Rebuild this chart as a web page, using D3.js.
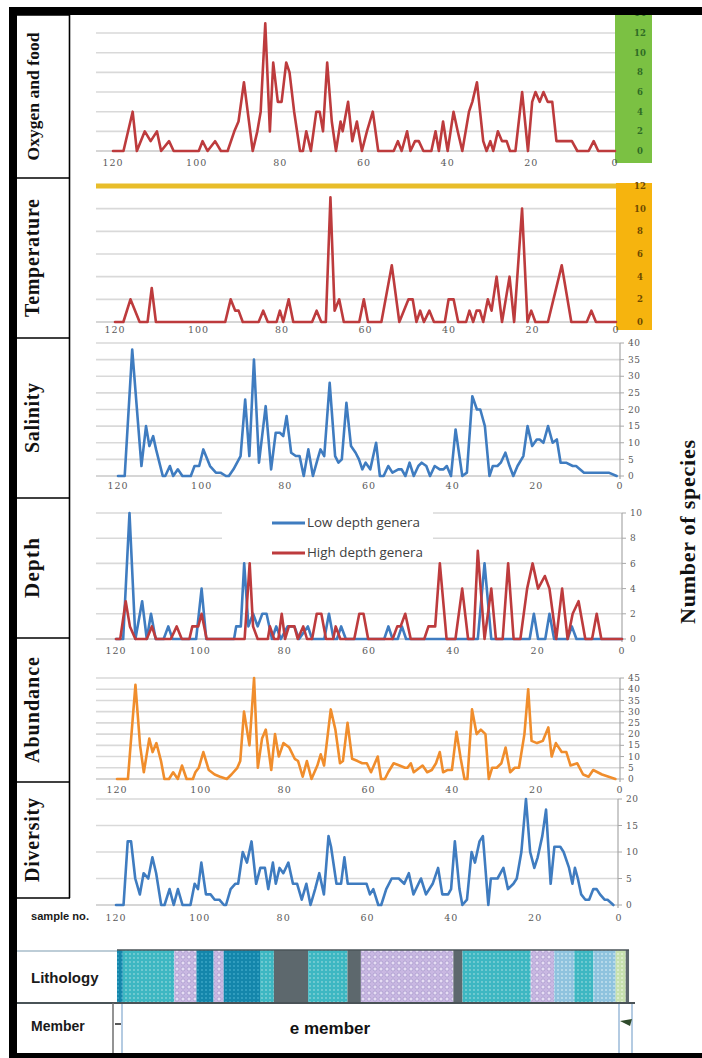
<!DOCTYPE html>
<html><head><meta charset="utf-8">
<script src="https://cdn.jsdelivr.net/npm/d3@7"></script>
<style>body{margin:0;background:#fff;}svg{display:block;}</style>
</head><body>
<svg id="c" width="702" height="1058"></svg>
<script>
// ---------------- DATA ----------------
const sampleTicks = [120, 100, 80, 60, 40, 20, 0];
const rowLabels = ["Oxygen and food", "Temperature", "Salinity", "Depth", "Abundance", "Diversity"];
const oxygenTicks = [0, 2, 4, 6, 8, 10, 12, 14];
const temperatureTicks = [0, 2, 4, 6, 8, 10, 12];
const salinityTicks = [0, 5, 10, 15, 20, 25, 30, 35, 40];
const depthTicks = [0, 2, 4, 6, 8, 10];
const abundanceTicks = [0, 5, 10, 15, 20, 25, 30, 35, 40, 45];
const diversityTicks = [0, 5, 10, 15, 20];
const legendNames = ["Low depth genera", "High depth genera"];

// [sample no., number of species]
const oxygenFood = [[120,0],[117.5,0],[115.3,4],[114.3,0],[112.4,2],[111,1],[109.5,2],[108.5,0],[106.6,1],[105.5,0],[99.5,0],[98.6,1],[97.4,0],[95.6,1],[94.2,0],[92.6,0],[91,2],[90,3],[88.7,7],[87.5,3],[86.6,0],[85.5,2],[84.7,4],[83.6,13],[82.5,2],[81.7,9],[80.6,5],[79.7,5],[78.6,9],[77.8,8],[76.7,4],[75.3,0],[74.6,0],[73.8,2],[72.7,0],[71.4,4],[70.6,4],[69.8,2],[68.8,9],[67.7,3],[66.7,0],[65.6,3],[65.1,2],[63.8,5],[62.8,1],[61.7,3],[60.5,0],[59.3,2],[57.9,4],[56.6,0],[52.9,0],[51.9,1],[51,0],[49.7,2],[48.9,0],[47.8,1],[46.9,1],[45.8,0],[43.9,0],[42.9,2],[42.1,0],[41.1,3],[40,0],[38.6,4],[37.6,2],[36.5,0],[34.9,4],[34.1,5],[33,7],[31.5,1],[30.7,0],[29.8,1],[29.1,0],[28,2],[27,1],[25.9,1],[25.1,0],[23.8,0],[22.2,6],[20.8,0],[19.8,5],[19,6],[18,5],[17.1,6],[16.1,5],[15,5],[14,1],[10.3,1],[9,0],[6.3,0],[5.1,1],[4,0],[0,0]];
const temperature = [[120,0],[118,0],[116.3,2],[114.1,0],[112.2,0],[111.2,3],[110.2,0],[93.6,0],[92.3,2],[91.2,1],[90.4,1],[89.4,0],[85.6,0],[84.5,1],[83.4,0],[81.3,0],[80.5,1],[79.7,0],[78.4,2],[77.3,0],[72.8,0],[71.7,1],[70.6,0],[69.5,0],[68.4,11],[67.4,1],[66.3,2],[65.2,0],[61.5,0],[60.4,2],[59.4,0],[56.2,0],[53.7,5],[51.9,0],[49.7,2],[48.7,2],[47.8,0],[46.9,1],[46,0],[44.7,1],[43.6,0],[41,0],[40.1,2],[38.9,2],[37.8,0],[35.9,0],[35.1,1],[34.2,0],[33.4,1],[32.6,1],[31.8,0],[30.7,2],[29.8,1],[28.6,4],[27.3,0],[25.5,4],[24.4,0],[22.5,10],[21.2,0],[20.3,1],[19.3,0],[16.3,0],[13,5],[10.7,0],[7,0],[5.9,1],[4.8,0],[0,0]];
const salinity = [[120,0],[118.4,0],[116.6,38],[114.4,3],[113.3,15],[112.5,9],[111.6,12],[110.9,8],[109.3,0],[108.7,0],[107.6,3],[106.8,0],[105.7,2],[104.6,0],[102.6,0],[101.7,3],[100.6,3],[99.6,8],[98,3],[96.6,1],[95.5,1],[94.2,0],[93.5,0],[92.4,2],[90.7,6],[89.6,23],[88.6,6],[87.5,35],[86.3,4],[84.7,21],[83.4,2],[82.3,13],[81.3,13],[80.5,12],[79.7,18],[78.6,7],[77.5,6],[76.6,6],[75.6,0],[74.5,8],[73.4,0],[72.3,5],[71.6,8],[70.7,6],[69.4,28],[68.1,6],[67.3,4],[66.5,5],[65.4,22],[64.3,9],[63.2,7],[62.4,5],[61.6,2],[60.8,4],[59.7,2],[58.3,10],[57.4,0],[56.5,0],[55.4,3],[54.4,1],[53,2],[52.2,2],[51.3,0],[50.3,4],[49.3,0],[48.2,3],[47.4,4],[46.3,3],[45.4,0],[44.3,3],[43.1,2],[42.2,2],[41.4,3],[40.4,0],[39.3,14],[37.7,0],[36.6,1],[35.3,24],[34.2,20],[33.4,20],[32.3,15],[31.2,0],[30.4,3],[29.3,3],[28.5,4],[27.4,7],[26.4,3],[25.5,0],[24.5,3],[23.1,6],[22.1,15],[21,9],[19.9,11],[19.2,11],[18.3,10],[17.2,15],[16.1,10],[15.1,11],[14.2,4],[12.9,4],[11.3,3],[10.5,3],[8.6,1],[2.7,1],[0.8,0]];
const depthLow = [[120,0],[118.3,0],[116.8,10],[115.4,0],[113.8,3],[112.7,0],[111.7,2],[110.6,0],[108.7,0],[107.6,1],[106.6,0],[101,0],[99.7,4],[98.6,0],[92,0],[91.5,1],[90.4,1],[89.6,6],[88.6,1],[87.5,2],[86.4,1],[85.3,2],[84.3,2],[83,0],[82,1],[80.9,0],[79.3,1],[77.7,1],[76.6,0],[74.5,1],[73.5,0],[70.6,0],[69.5,2],[68.4,0],[67.6,0],[66.6,1],[65.5,0],[56.4,0],[55.4,1],[54.4,0],[53.2,0],[52.2,1],[51.2,0],[34.2,0],[32.6,6],[31,0],[21.9,0],[20.9,2],[19.9,0],[18.2,0],[17.2,2],[16.1,0],[12.9,0],[11.9,1],[10.8,0],[0,0]];
const depthHigh = [[120,0],[119,0],[117.7,3],[116.7,1],[115.4,0],[112.7,0],[111.5,1],[110.5,0],[107,0],[105.6,1],[104.4,0],[102.6,0],[101.9,1],[100.5,1],[99.7,2],[98.5,0],[89.5,0],[88.3,6],[87.5,1],[86.4,0],[84,0],[83.5,1],[82.5,0],[81.5,0],[80.7,2],[79.9,0],[79,1],[77.7,1],[76.9,0],[75.6,1],[74.7,0],[73.5,0],[72.4,2],[71.3,2],[70.2,0],[68.5,0],[67.9,1],[66.8,0],[63.5,0],[62.3,2],[61.3,2],[60.2,0],[54.4,0],[53.3,1],[52.5,1],[51.4,2],[50.1,0],[46.9,0],[45.9,1],[44.3,1],[43.2,6],[41.6,0],[39.5,0],[37.9,4],[36.5,0],[35.2,0],[34.2,7],[32.6,0],[31,4],[29.9,0],[28.3,0],[27,6],[25.7,0],[24.1,0],[22.5,4],[21.2,6],[19.9,4],[18.3,5],[17.2,4],[15.6,0],[14.2,4],[12.9,0],[11.7,2],[10.3,3],[8.7,0],[7.1,0],[6,2],[4.9,0],[0,0]];
const abundance = [[120,0],[117.4,0],[115.6,42],[114.5,15],[113.6,3],[112.3,18],[111.5,12],[110.6,16],[109.5,8],[108.7,0],[107.6,0],[106.6,3],[105.5,0],[104.5,6],[103.4,0],[101.9,0],[101.3,3],[100.5,5],[99.4,12],[98.1,4],[96.7,2],[95.4,1],[93.8,0],[92.7,2],[91.3,5],[90.6,8],[89.7,30],[88.4,15],[87.3,45],[86.4,5],[85.4,18],[84.5,22],[83.2,4],[82.3,20],[81.4,10],[80.3,16],[78.9,14],[77.6,9],[76.8,8],[75.7,1],[74.7,8],[73.6,0],[72.2,6],[71.4,11],[70.6,6],[69,31],[67.9,22],[66.8,7],[66.1,8],[65,25],[63.9,9],[62.6,8],[61.5,7],[60.4,7],[59.4,3],[57.8,10],[57,0],[56.1,0],[55.3,3],[54,7],[52.6,6],[51.3,5],[50.7,5],[49.9,7],[49.2,3],[47.1,6],[46,3],[44.9,4],[43.9,7],[43,12],[42.2,3],[41.2,4],[40.1,4],[39,21],[38,9],[37.1,0],[36.4,0],[35.3,31],[34.2,20],[33.2,22],[32.1,20],[31.3,0],[30.5,5],[29.4,5],[28.3,7],[27.3,14],[26.2,3],[25.1,5],[24.1,5],[22.8,20],[21.9,40],[21.1,17],[19.8,16],[18.4,17],[17.1,23],[16.3,10],[15.3,16],[13.9,12],[12.8,12],[11.8,6],[10.2,7],[8.8,2],[7.5,1],[6.4,4],[4.3,2],[2.7,1],[1.1,0]];
const diversity = [[120,0],[118.2,0],[117.2,12],[116.4,12],[115.4,5],[114.3,2],[113.4,6],[112.3,5],[111.3,9],[110.4,6],[109.2,0],[108.4,0],[107.2,3],[106.2,0],[105.2,3],[104.1,0],[102.2,0],[101.2,4],[100.4,3],[99.6,8],[98.5,2],[97.4,2],[96.4,1],[95.3,1],[94.2,0],[93.7,0],[92.6,3],[91.5,4],[90.8,4],[89.7,10],[88.7,8],[87.6,12],[86.5,4],[85.5,7],[84.4,7],[83.6,3],[82.5,8],[81.8,4],[80.9,7],[80,6],[78.8,8],[77.7,4],[76.7,4],[75.6,1],[74.5,4],[73.5,0],[72.4,3],[71.4,6],[70.3,2],[69.2,13],[68.6,11],[67.3,4],[66.2,4],[65.4,9],[64.6,4],[60.1,4],[59.3,2],[58.5,3],[57.3,0],[56.6,0],[55.4,3],[54.1,5],[52.4,5],[51.1,4],[50,6],[48.9,2],[47.1,5],[45.9,2],[44.3,4],[43,7],[42,2],[40.6,2],[39.9,3],[39,12],[37.9,3],[37.2,0],[36.1,1],[35,10],[34.2,8],[33.1,12],[32.3,13],[31,0],[30.4,5],[28.8,5],[27.4,7],[26.3,3],[25,4],[24.2,5],[23.1,10],[22,20],[21,10],[20,7],[19.2,9],[18.1,13],[17.2,18],[16.1,4],[15.2,11],[13.8,11],[13,10],[11.7,7],[10.9,4],[10.3,7],[9.6,5],[8.8,2],[7.8,1],[6.9,1],[5.9,3],[5.1,3],[4.3,2],[3.2,1],[2.5,1],[1.1,0]];

// lithology: boundaries in sample no. and the rock type of each interval
const lithoBounds = [120, 118.6, 106.3, 101, 96.9, 94.5, 85.8, 82.5, 74.3, 64.9, 61.7, 39.6, 37.4, 21.1, 15.5, 10.7, 6.1, 0.8, -1.6, -2.4];
const lithoTypes = ["darkteal","teal","lavender","darkteal","lavender","darkteal","teal","gray","teal","gray","lavender","gray","teal","lavender","lightblue","teal","lightblue","palegreen","gray"];

// ---------------- DRAWING ----------------
const RED = "#bd3b3d", BLUE = "#3f7cc0", ORANGE = "#f08d2c";
const svg = d3.select("#c");
const defs = svg.append("defs");
const tickFont = "'DejaVu Serif', serif";

function dotPattern(id, base, dot, size, r) {
  const p = defs.append("pattern").attr("id", id).attr("width", size).attr("height", size).attr("patternUnits", "userSpaceOnUse");
  p.append("rect").attr("width", size).attr("height", size).attr("fill", base);
  p.append("circle").attr("cx", size / 2).attr("cy", size / 2).attr("r", r).attr("fill", dot);
}
dotPattern("p-teal", "#3db7c2", "#86d3d8", 4, 0.9);
dotPattern("p-darkteal", "#1486ab", "#3fa8c8", 4, 0.9);
dotPattern("p-lightblue", "#8fc3de", "#c4e1ef", 4, 1);
dotPattern("p-palegreen", "#c6e0ae", "#e4f1d6", 4, 1);
(function () {
  const p = defs.append("pattern").attr("id", "p-lavender").attr("width", 6).attr("height", 6).attr("patternUnits", "userSpaceOnUse");
  p.append("rect").attr("width", 6).attr("height", 6).attr("fill", "#c9b8e2");
  p.append("circle").attr("cx", 3).attr("cy", 3).attr("r", 2).attr("fill", "#e6ddf3").attr("stroke", "#9c8bc4").attr("stroke-width", 0.6);
})();
const lithoFill = { teal: "url(#p-teal)", darkteal: "url(#p-darkteal)", lightblue: "url(#p-lightblue)", palegreen: "url(#p-palegreen)", lavender: "url(#p-lavender)", gray: "#5d686d" };

const panels = [
  { series: [{ d: oxygenFood, c: RED }], ticks: oxygenTicks, yr: [151, 13.4], xr: [113, 615], xLabelY: 166, bar: { fill: "#7bc143", y0: 15, y1: 163, text: "#2f6b25" } },
  { series: [{ d: temperature, c: RED }], ticks: temperatureTicks, yr: [322, 186], xr: [115, 616], xLabelY: 333, bar: { fill: "#f6b40e", y0: 183, y1: 330, text: "#6e4a00" }, topLine: "#e8bd2a" },
  { series: [{ d: salinity, c: BLUE }], ticks: salinityTicks, yr: [476, 343], xr: [118, 620], xLabelY: 489 },
  { series: [{ d: depthLow, c: BLUE }, { d: depthHigh, c: RED }], ticks: depthTicks, yr: [639, 513], xr: [116, 622], xLabelY: 654, legend: true },
  { series: [{ d: abundance, c: ORANGE }], ticks: abundanceTicks, yr: [779, 678], xr: [117, 620], xLabelY: 793 },
  { series: [{ d: diversity, c: BLUE }], ticks: diversityTicks, yr: [905, 799], xr: [116, 618], xLabelY: null }
];

panels.forEach((p) => {
  const g = svg.append("g");
  const x = d3.scaleLinear().domain([120, 0]).range(p.xr);
  const y = d3.scaleLinear().domain([0, d3.max(p.ticks)]).range(p.yr);
  const gx0 = 96;

  if (p.bar) {
    g.append("rect").attr("x", p.xr[1]).attr("y", p.bar.y0).attr("width", 652 - p.xr[1]).attr("height", p.bar.y1 - p.bar.y0).attr("fill", p.bar.fill);
  }
  g.selectAll("line.grid").data(p.ticks).join("line")
    .attr("x1", gx0).attr("x2", p.xr[1])
    .attr("y1", d => y(d)).attr("y2", d => y(d))
    .attr("stroke", (d) => (p.topLine && d === d3.max(p.ticks)) ? p.topLine : (d === 0 ? "#c8c8c8" : "#d9d9d9"))
    .attr("stroke-width", (d) => (p.topLine && d === d3.max(p.ticks)) ? 5 : 1.6);

  if (p.legend) {
    g.append("rect").attr("x", 222).attr("y", 503).attr("width", 211).attr("height", 57).attr("fill", "#fff");
  }

  if (p.bar) {
    g.selectAll("text.yl").data(p.ticks).join("text")
      .attr("x", 640).attr("y", d => y(d)).attr("dy", "0.35em")
      .attr("text-anchor", "middle").attr("font-family", tickFont).attr("font-size", 8.5).attr("font-weight", "bold")
      .attr("fill", p.bar.text).text(d => d);
  } else {
    g.append("line").attr("x1", p.xr[1]).attr("x2", p.xr[1]).attr("y1", y(d3.max(p.ticks))).attr("y2", y(0) + 3)
      .attr("stroke", "#a8a8a8").attr("stroke-width", 1.2);
    g.selectAll("line.tk").data(p.ticks).join("line")
      .attr("x1", p.xr[1]).attr("x2", p.xr[1] + 4).attr("y1", d => y(d)).attr("y2", d => y(d))
      .attr("stroke", "#a8a8a8").attr("stroke-width", 1);
    g.selectAll("text.yl").data(p.ticks).join("text")
      .attr("x", p.xr[1] + 8).attr("y", d => y(d)).attr("dy", "0.35em")
      .attr("font-family", tickFont).attr("font-size", 9).attr("letter-spacing", 0.6)
      .attr("fill", "#595959").text(d => d);
  }

  if (p.xLabelY !== null) {
    g.selectAll("text.xl").data(sampleTicks).join("text")
      .attr("x", d => x(d)).attr("y", p.xLabelY).attr("text-anchor", "middle")
      .attr("font-family", tickFont).attr("font-size", 9.5).attr("letter-spacing", 1)
      .attr("fill", "#5a5a5a").text(d => d);
  }

  const line = d3.line().x(d => x(d[0])).y(d => y(d[1]));
  p.series.forEach(s => {
    g.append("path").attr("d", line(s.d)).attr("fill", "none").attr("stroke", s.c)
      .attr("stroke-width", 2.6).attr("stroke-linejoin", "round").attr("stroke-linecap", "round");
  });

  if (p.legend) {
    const ly = [523, 553];
    const lc = [BLUE, RED];
    legendNames.forEach((n, i) => {
      g.append("line").attr("x1", 272).attr("x2", 305).attr("y1", ly[i]).attr("y2", ly[i]).attr("stroke", lc[i]).attr("stroke-width", 3.2);
      g.append("text").attr("x", 307).attr("y", ly[i]).attr("dy", "0.35em")
        .attr("font-family", "'Open Sans', sans-serif").attr("font-size", 12).attr("fill", "#404040")
        .attr("textLength", i ? 116 : 113).attr("lengthAdjust", "spacingAndGlyphs").text(n);
    });
  }
});

// sample no. axis row
(function () {
  const x = d3.scaleLinear().domain([120, 0]).range([116, 619]);
  svg.selectAll("text.sn").data(sampleTicks).join("text")
    .attr("x", d => x(d)).attr("y", 921).attr("text-anchor", "middle")
    .attr("font-family", tickFont).attr("font-size", 9.5).attr("letter-spacing", 1)
    .attr("fill", "#5a5a5a").text(d => d);
  svg.append("text").attr("x", 31).attr("y", 920).attr("font-family", "'Liberation Sans', sans-serif")
    .attr("font-weight", "bold").attr("font-size", 10).attr("fill", "#1a1a1a")
    .attr("textLength", 58).attr("lengthAdjust", "spacingAndGlyphs").text("sample no.");
})();

// lithology
(function () {
  const x = d3.scaleLinear().domain([120, 0]).range([117, 619]);
  const segs = lithoTypes.map((t, i) => ({ t, a: lithoBounds[i], b: lithoBounds[i + 1] }));
  svg.selectAll("rect.lith").data(segs).join("rect")
    .attr("x", d => x(d.a)).attr("width", d => x(d.b) - x(d.a))
    .attr("y", 950).attr("height", 52).attr("fill", d => lithoFill[d.t]);
  svg.append("line").attr("x1", 117).attr("x2", x(-2.4)).attr("y1", 950).attr("y2", 950).attr("stroke", "#4a5357").attr("stroke-width", 1.5);
  svg.append("line").attr("x1", 17).attr("x2", 117).attr("y1", 951).attr("y2", 951).attr("stroke", "#7d9bb0").attr("stroke-width", 1.2);
  svg.append("line").attr("x1", 17).attr("x2", 635).attr("y1", 1003).attr("y2", 1003).attr("stroke", "#4a5357").attr("stroke-width", 2);
  svg.append("text").attr("x", 31).attr("y", 983).attr("font-family", "'Liberation Sans', sans-serif")
    .attr("font-weight", "bold").attr("font-size", 15).attr("fill", "#1a1a1a").text("Lithology");
  svg.append("text").attr("x", 31).attr("y", 1031).attr("font-family", "'Liberation Sans', sans-serif")
    .attr("font-weight", "bold").attr("font-size", 14).attr("fill", "#1a1a1a").text("Member");
  svg.append("text").attr("x", 330).attr("y", 1034).attr("text-anchor", "middle").attr("font-family", "'Liberation Sans', sans-serif")
    .attr("font-weight", "bold").attr("font-size", 17).attr("fill", "#111").text("e member");
  svg.append("line").attr("x1", 113).attr("x2", 113).attr("y1", 1003).attr("y2", 1054).attr("stroke", "#6f6f6f").attr("stroke-width", 1.5);
  [122, 619, 632].forEach(v => svg.append("line").attr("x1", v).attr("x2", v).attr("y1", 1004).attr("y2", 1054).attr("stroke", "#9bbad8").attr("stroke-width", 1.5));
  svg.append("line").attr("x1", 115).attr("x2", 121).attr("y1", 1024).attr("y2", 1024).attr("stroke", "#222").attr("stroke-width", 1.5);
  svg.append("path").attr("d", "M620,1021 L632,1019 L630,1026 Z").attr("fill", "#2f4a2a");
})();

// label column & frame
const rowBounds = [15, 178, 338, 498, 638, 782, 898];
const labelSizes = [17.5, 20, 20, 21, 20, 20];
const labelSpans = [128, 118, 70, 60, 106, 84];
rowLabels.forEach((lab, i) => {
  const cy = (rowBounds[i] + rowBounds[i + 1]) / 2;
  svg.append("text").attr("transform", `translate(39,${cy}) rotate(-90)`)
    .attr("text-anchor", "middle").attr("font-family", "'Liberation Serif', serif")
    .attr("font-weight", "bold").attr("font-size", labelSizes[i]).attr("fill", "#111")
    .attr("textLength", labelSpans[i]).attr("lengthAdjust", "spacing").text(lab);
});
svg.selectAll("line.rb").data(rowBounds).join("line")
  .attr("x1", 17).attr("x2", 70).attr("y1", d => d).attr("y2", d => d)
  .attr("stroke", "#000").attr("stroke-width", 1.6);
svg.append("line").attr("x1", 69.5).attr("x2", 69.5).attr("y1", 15).attr("y2", 898).attr("stroke", "#000").attr("stroke-width", 1.6);

svg.append("text").attr("transform", "translate(695,532) rotate(-90)")
  .attr("text-anchor", "middle").attr("font-family", "'Liberation Serif', serif")
  .attr("font-weight", "bold").attr("font-size", 22).attr("fill", "#111")
  .attr("textLength", 184).attr("lengthAdjust", "spacing").text("Number of species");

// thick outer frame
svg.append("rect").attr("x", 9).attr("y", 7).attr("width", 693).attr("height", 8).attr("fill", "#000");
svg.append("rect").attr("x", 9).attr("y", 7).attr("width", 8).attr("height", 1051).attr("fill", "#000");
svg.append("rect").attr("x", 9).attr("y", 1053).attr("width", 693).attr("height", 5).attr("fill", "#000");
</script>
</body></html>
